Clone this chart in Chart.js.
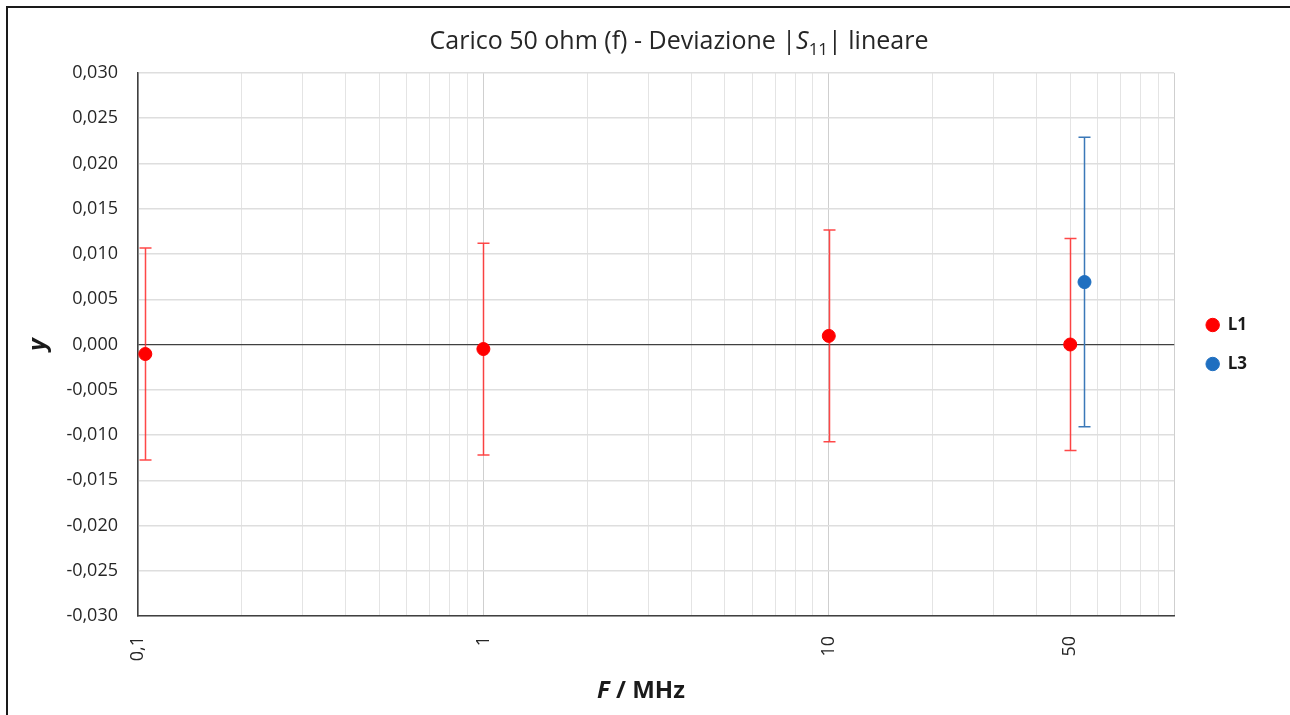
<!DOCTYPE html>
<html>
<head>
<meta charset="utf-8">
<script src="https://cdn.jsdelivr.net/npm/chart.js@4/dist/chart.umd.min.js"></script>
<style>
  body { margin: 0; background: #fff; }
  #wrap { position: relative; width: 1290px; height: 715px; }
  #frame { position: absolute; left: 6px; top: 6px; right: 0; bottom: 0;
           border-top: 2px solid #1a1a1a; border-left: 2px solid #1a1a1a; }
  canvas { position: absolute; left: 0; top: 0; }
</style>
</head>
<body>
<div id="wrap">
  <div id="frame"></div>
  <canvas id="myChart" width="1290" height="715"></canvas>
</div>
<script>
"use strict";

//Data: frequency (MHz), deviation, expanded uncertainty.
var l1Freq = [0.105, 1, 10, 50];
var l1Dev = [-0.00105, -0.0005, 0.00095, 0.0000];
var l1Err = [0.0117, 0.0117, 0.0117, 0.0117];

var l3Freq = [55];
var l3Dev = [0.0069];
var l3Err = [0.0160];

//Labelled ticks on the x axis.
var xTickLabels = [0.1, 1, 10, 50];

var FONT = "'Open Sans', sans-serif";

function toPoints(xs, ys) {
    var out = [];
    for (var i = 0; i < xs.length; i++) {
        out.push({ x: xs[i], y: ys[i] });
    }
    return out;
}

function comma(v, digits) {
    return v.toFixed(digits).replace('.', ',');
}

//Draws the vertical error bars of each dataset (behind the markers).
var errorBars = {
    id: 'errorBars',
    beforeDatasetsDraw: function (chart) {
        var ctx = chart.ctx;
        var xs = chart.scales.x, ys = chart.scales.y;
        chart.data.datasets.forEach(function (ds) {
            ctx.save();
            ctx.strokeStyle = ds.errColor;
            ctx.lineWidth = 1.5;
            ds.data.forEach(function (p, i) {
                var px = Math.round(xs.getPixelForValue(p.x)) + 0.5;
                var top = ys.getPixelForValue(p.y + ds.err[i]);
                var bot = ys.getPixelForValue(p.y - ds.err[i]);
                ctx.beginPath();
                ctx.moveTo(px, top); ctx.lineTo(px, bot);
                ctx.moveTo(px - 6, top); ctx.lineTo(px + 6, top);
                ctx.moveTo(px - 6, bot); ctx.lineTo(px + 6, bot);
                ctx.stroke();
            });
            ctx.restore();
        });
    }
};

//Keep the legend centred on the plot area, like the original.
var legendCenter = {
    id: 'legendCenter',
    afterLayout: function (chart) {
        var lg = chart.legend;
        if (!lg) return;
        lg.top = chart.chartArea.top;
        lg.bottom = chart.chartArea.bottom;
        lg.height = lg.bottom - lg.top;
        lg.left += 10;
        lg.right += 10;
    }
};

//Title with the italic S and subscript, and the x axis title.
var texts = {
    id: 'texts',
    afterDraw: function (chart) {
        var ctx = chart.ctx;
        ctx.save();
        ctx.fillStyle = '#262626';
        ctx.textBaseline = 'alphabetic';
        var parts = [
            { t: 'Carico 50 ohm (f) - Deviazione |', f: '25px ' + FONT, dy: 0 },
            { t: 'S', f: 'italic 25px ' + FONT, dy: 0 },
            { t: '11', f: '17px ' + FONT, dy: 6 },
            { t: '| lineare', f: '25px ' + FONT, dy: 0 }
        ];
        drawParts(ctx, parts, 679, 49);

        ctx.fillStyle = '#1a1a1a';
        var xt = [
            { t: 'F', f: 'italic bold 24px ' + FONT, dy: 0 },
            { t: ' / MHz', f: 'bold 24px ' + FONT, dy: 0 }
        ];
        drawParts(ctx, xt, 641, 698);
        ctx.restore();
    }
};

function drawParts(ctx, parts, cx, baseY) {
    var total = 0;
    parts.forEach(function (p) { ctx.font = p.f; p.w = ctx.measureText(p.t).width; total += p.w; });
    var x = cx - total / 2;
    parts.forEach(function (p) {
        ctx.font = p.f;
        ctx.fillText(p.t, x, baseY + p.dy);
        x += p.w;
    });
}

var ctx = document.getElementById('myChart').getContext('2d');
var myChart = new Chart(ctx, {
    type: 'scatter',
    data: {
        datasets: [{
            label: 'L1',
            data: toPoints(l1Freq, l1Dev),
            err: l1Err,
            errColor: 'rgba(255, 40, 40, 0.85)',
            backgroundColor: '#ff0000',
            borderColor: '#ff0000',
            pointRadius: 6.5,
            pointHoverRadius: 6.5
        }, {
            label: 'L3',
            data: toPoints(l3Freq, l3Dev),
            err: l3Err,
            errColor: '#3b78b8',
            backgroundColor: '#1f6fc0',
            borderColor: '#1f6fc0',
            pointRadius: 6.5,
            pointHoverRadius: 6.5
        }]
    },
    options: {
        responsive: false,
        animation: false,
        layout: { padding: { left: 24, top: 73, right: 43, bottom: 0 } },
        plugins: {
            title: { display: false },
            tooltip: { enabled: false },
            legend: {
                position: 'right',
                labels: {
                    usePointStyle: true,
                    pointStyle: 'circle',
                    boxWidth: 13,
                    boxHeight: 9.5,
                    padding: 22,
                    color: '#1a1a1a',
                    font: { family: FONT, size: 17, weight: 'bold' }
                }
            }
        },
        scales: {
            x: {
                type: 'logarithmic',
                min: 0.1,
                max: 100,
                border: { color: '#404040', width: 1.5 },
                grid: {
                    drawTicks: false,
                    color: function (c) {
                        var v = c.tick.value;
                        var lg = Math.log10(v);
                        return Math.abs(lg - Math.round(lg)) < 1e-6 ? '#cfcfcf' : '#e4e4e4';
                    }
                },
                afterBuildTicks: function (axis) {
                    var t = [];
                    for (var d = 0.1; d < 100; d *= 10) {
                        for (var m = 1; m <= 9; m++) {
                            t.push({ value: +(d * m).toPrecision(3) });
                        }
                    }
                    t.push({ value: 100 });
                    axis.ticks = t;
                },
                afterFit: function (axis) { axis.height = 99; },
                ticks: {
                    autoSkip: false,
                    maxRotation: 90,
                    minRotation: 90,
                    padding: 20,
                    color: '#262626',
                    font: { family: FONT, size: 18 },
                    callback: function (v) {
                        for (var i = 0; i < xTickLabels.length; i++) {
                            if (Math.abs(xTickLabels[i] - v) < 1e-9) {
                                return v < 1 ? comma(v, 1) : String(v);
                            }
                        }
                        return '';
                    }
                }
            },
            y: {
                min: -0.03,
                max: 0.03,
                border: { color: '#404040', width: 1.5 },
                grid: {
                    drawTicks: false,
                    lineWidth: function (c) { return c.tick.value === 0 ? 1.2 : 1.5; },
                    color: function (c) { return Math.abs(c.tick.value) < 1e-9 ? '#404040' : '#dedede'; }
                },
                afterFit: function (axis) { axis.width = 114; },
                title: {
                    display: true,
                    text: 'y',
                    color: '#1a1a1a',
                    font: { family: FONT, size: 24, weight: 'bold', style: 'italic' },
                    padding: 0
                },
                ticks: {
                    stepSize: 0.005,
                    padding: 20,
                    color: '#262626',
                    font: { family: FONT, size: 18 },
                    callback: function (v) { return comma(v, 3); }
                }
            }
        }
    },
    plugins: [errorBars, legendCenter, texts]
});
</script>
</body>
</html>
